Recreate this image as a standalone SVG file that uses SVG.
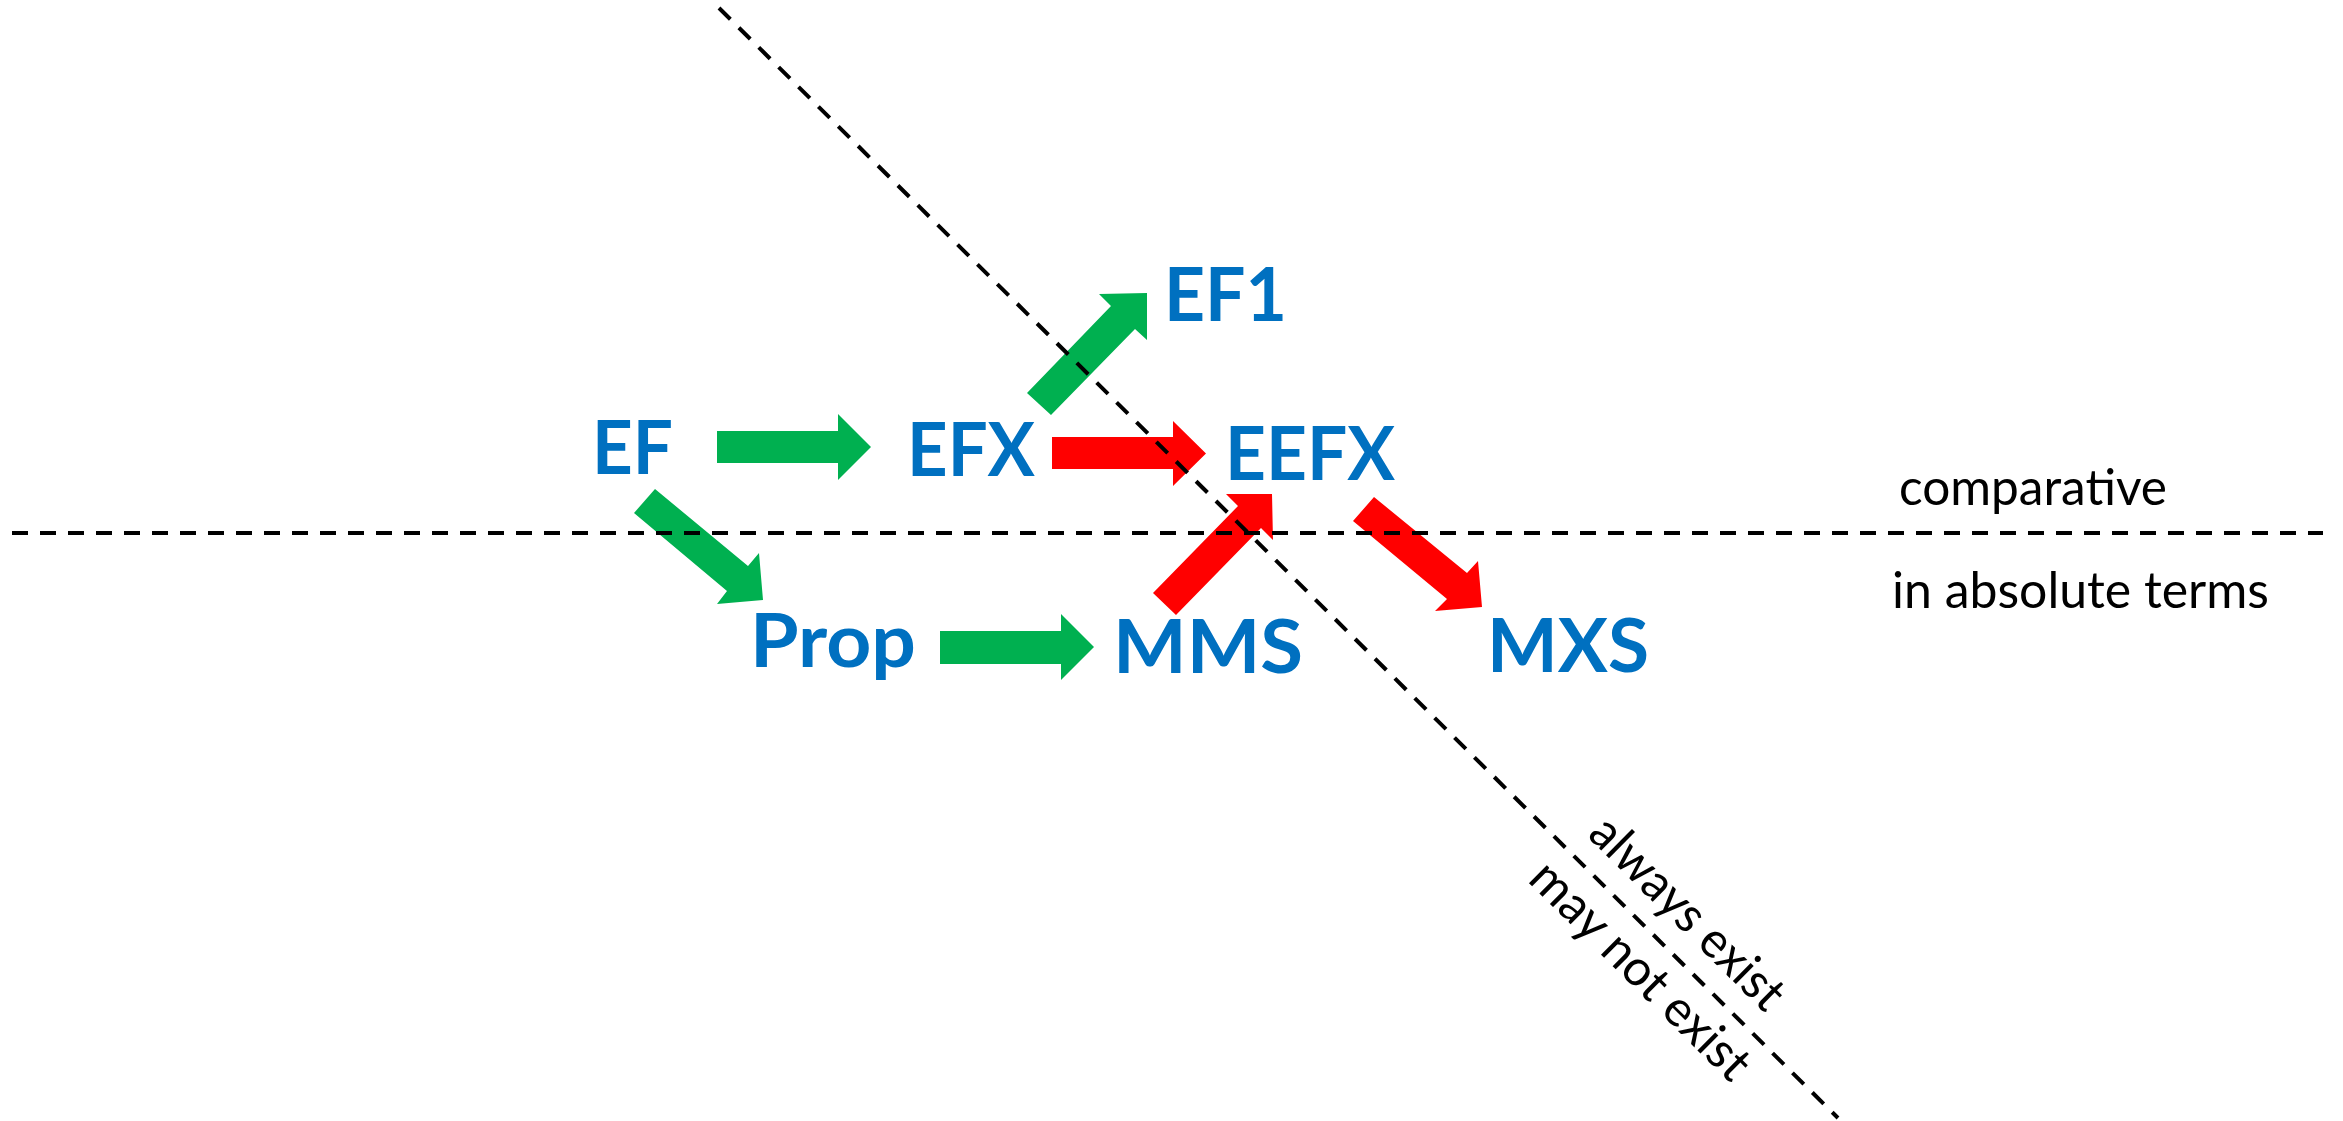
<svg xmlns="http://www.w3.org/2000/svg" width="2343" height="1121" viewBox="0 0 2343 1121">
<style>
.lbl{font-family:Lato,"Open Sans","Liberation Sans",sans-serif;font-weight:bold;font-size:75px;fill:#0070C0}
.note{font-family:Lato,"Open Sans","Liberation Sans",sans-serif;font-size:50px;fill:#000}
.g{fill:#00B050}
.r{fill:#FF0000}
.dash{stroke:#000;stroke-width:4;stroke-dasharray:16 12;fill:none}
</style>
<rect width="2343" height="1121" fill="#fff"/>
<g id="connectors">
<polygon class="g" points="717,431 838,431 838,414 871,447 838,480 838,463 717,463"/>
<polygon class="r" points="1052,437 1173,437 1173,421 1206,453.5 1173,486 1173,469 1052,469"/>
<polygon class="g" points="940,631 1061,631 1061,614 1094,647 1061,680 1061,664 940,664"/>
<polygon class="g" points="1027,393 1111,306 1099,294 1147,293 1147,340 1135,329 1051,415"/>
<polygon class="r" points="1153,593 1238,506 1226,494 1272,494 1273,540 1261,528 1176,615"/>
<polygon class="g" points="655,489 748,566 759,553 763,600 717,604 727,591 634,513"/>
<polygon class="r" points="1374,497 1467,573 1478,561 1482,607 1435,611 1447,599 1353,521"/>
</g>
<g id="dividers">
<line class="dash" x1="12" y1="533" x2="2323" y2="533"/>
<line class="dash" x1="719" y1="8" x2="1838" y2="1118"/>
</g>
<g id="node-EF"><text class="lbl" x="592" y="474" textLength="81" lengthAdjust="spacingAndGlyphs">EF</text></g>
<g id="node-EFX"><text class="lbl" x="907" y="476" textLength="128" lengthAdjust="spacingAndGlyphs">EFX</text></g>
<g id="node-EF1"><text class="lbl" x="1164" y="321" textLength="123" lengthAdjust="spacingAndGlyphs">EF1</text></g>
<g id="node-EEFX"><text class="lbl" x="1225" y="480" textLength="170" lengthAdjust="spacingAndGlyphs">EEFX</text></g>
<g id="node-Prop"><text class="lbl" x="750" y="667" textLength="166" lengthAdjust="spacingAndGlyphs">Prop</text></g>
<g id="node-MMS"><text class="lbl" x="1113" y="673" textLength="190" lengthAdjust="spacingAndGlyphs">MMS</text></g>
<g id="node-MXS"><text class="lbl" x="1487" y="672" textLength="162" lengthAdjust="spacingAndGlyphs">MXS</text></g>
<g id="labels">
<text class="note" x="1899" y="505" textLength="268" lengthAdjust="spacingAndGlyphs">comparative</text>
<text class="note" x="1892" y="608" textLength="377" lengthAdjust="spacingAndGlyphs">in absolute terms</text>
<text class="note" transform="translate(1658.3,942.5) rotate(44.8)" x="0" y="-25" text-anchor="middle" textLength="252" lengthAdjust="spacingAndGlyphs">always exist</text>
<text class="note" transform="translate(1663.3,947.4) rotate(44.8)" x="0" y="49" text-anchor="middle" textLength="288" lengthAdjust="spacingAndGlyphs">may not exist</text>
</g>
</svg>
